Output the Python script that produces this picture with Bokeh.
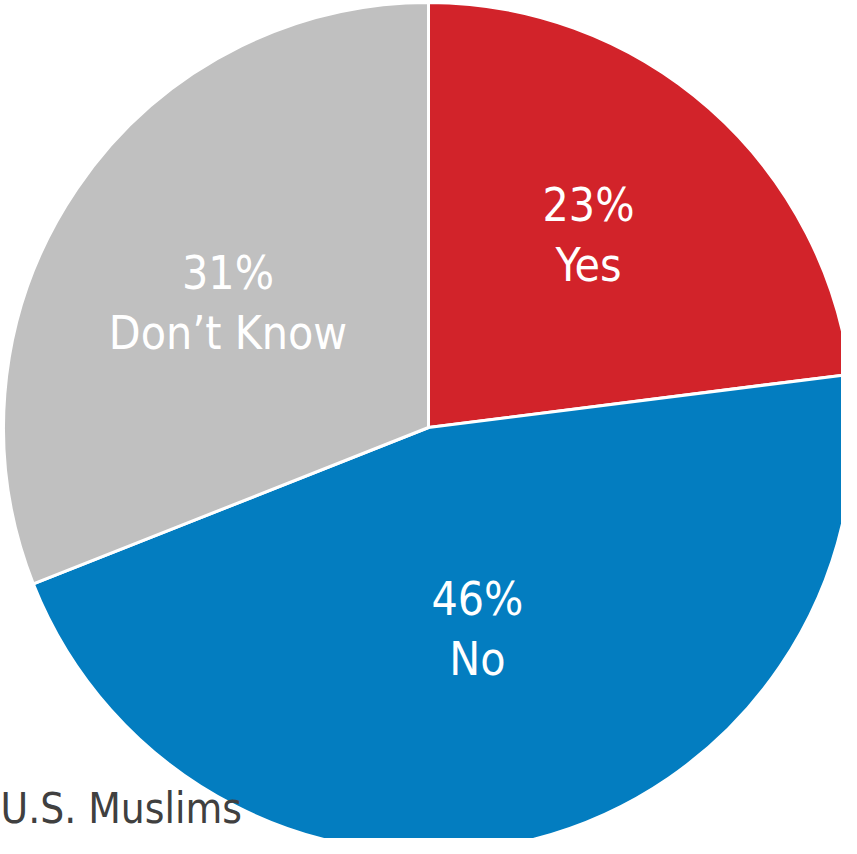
import numpy as np
from bokeh.plotting import figure
from bokeh.models import Range1d, Label, ColumnDataSource
from bokeh.core.properties import value
from bokeh.embed import file_html
from bokeh.resources import INLINE

# ---- data ----
categories = ["Yes", "No", "Don\u2019t Know"]
values = [23, 46, 31]
colors = ["#d2232a", "#037dc0", "#c0c0c0"]
title_text = "U.S. Muslims"

# ---- layout / style ----
W, H = 841, 838
cx, cy, R = 428, 411, 425
label_r = [0.582, 0.497, 0.551]
label_dtheta_deg = [-1.1, 1.0, -3.1]
FONT = "DejaVu Sans Condensed"
LABEL_SIZE = 46
TITLE_SIZE = 42

vals = np.array(values, dtype=float)
fr = vals / vals.sum()
cum = np.concatenate([[0.0], np.cumsum(fr)])
start = np.pi / 2 - 2 * np.pi * cum[:-1]
end = np.pi / 2 - 2 * np.pi * cum[1:]
mid = 2 * np.pi * (cum[:-1] + cum[1:]) / 2 + np.radians(label_dtheta_deg)  # clockwise from top
lx = cx + np.array(label_r) * R * np.sin(mid)
ly = cy + np.array(label_r) * R * np.cos(mid)

src = ColumnDataSource(dict(
    start=start, end=end, color=colors,
    lx=lx, ly1=ly + 33.5, ly2=ly - 26.5,
    pct=[f"{v:g}%" for v in values], cat=categories,
))

p = figure(width=W, height=H, x_range=Range1d(0, W), y_range=Range1d(0, H),
           output_backend="svg", toolbar_location=None, min_border=0)
p.axis.visible = False
p.grid.visible = False
p.outline_line_color = None
p.background_fill_color = "white"
p.border_fill_color = "white"

p.wedge(x=cx, y=cy, radius=R, start_angle="start", end_angle="end",
        direction="clock", fill_color="color", line_color="white",
        line_width=3, source=src)

p.text(x="lx", y="ly1", text="pct", text_align="center", text_baseline="alphabetic",
       text_color="white", text_font=value(FONT), text_font_size=f"{LABEL_SIZE}px", source=src)
p.text(x="lx", y="ly2", text="cat", text_align="center", text_baseline="alphabetic",
       text_color="white", text_font=value(FONT), text_font_size=f"{LABEL_SIZE}px", source=src)

p.add_layout(Label(x=0, y=30, text=title_text, text_baseline="alphabetic",
                   text_color="#404040", text_font=FONT, text_font_size=f"{TITLE_SIZE}px"))

open("out.html", "w").write(file_html(p, INLINE))
